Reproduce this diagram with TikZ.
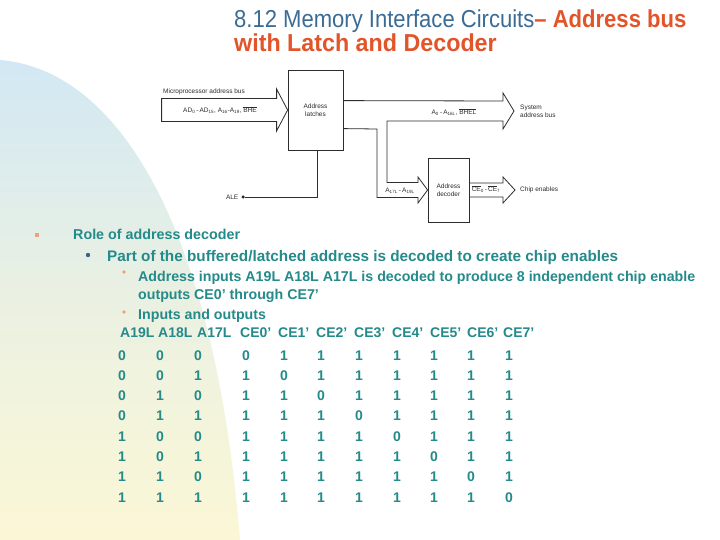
\documentclass[tikz,border=0pt]{standalone}
\usepackage{fontspec}
\setmainfont{Liberation Sans}
\newfontfamily\titlefont[FakeStretch=0.9]{Liberation Sans}
\newfontfamily\titlefontb[FakeStretch=0.95]{Liberation Sans}
\usetikzlibrary{calc}
\definecolor{tblue}{RGB}{58,108,150}
\definecolor{torange}{RGB}{226,84,42}
\definecolor{txtteal}{RGB}{36,138,138}
\definecolor{bgblue}{RGB}{210,232,244}
\definecolor{bgyellow}{RGB}{251,247,214}
\definecolor{bulor}{RGB}{238,160,130}
\definecolor{buldot}{RGB}{60,100,130}
\definecolor{diag}{RGB}{45,45,45}
\tikzset{
  blk/.style={draw=diag, line width=0.8pt, fill=white, inner sep=0pt, align=center,
    font=\fontsize{6.5}{8}\selectfont, text=diag},
  bus/.style={draw=diag, line width=0.8pt, line join=miter},
  wire/.style={draw=diag, line width=0.8pt},
  dlab/.style={font=\fontsize{6.5}{8}\selectfont, text=diag, inner sep=0pt},
  body/.style={text=txtteal, inner sep=0pt, anchor=base west},
  cell/.style={font=\fontsize{14}{16}\selectfont\bfseries, text=txtteal, inner sep=0pt, anchor=base west},
}
\begin{document}
\begin{tikzpicture}[x=1pt,y=-1pt]
\useasboundingbox (0,0) rectangle (720,540);
\fill[white] (0,0) rectangle (720,540);
% background shape
\shade[top color=bgblue, bottom color=bgyellow, middle color=bgblue!40!bgyellow]
  (0,60) .. controls (120,70) and (215,230) .. (240,540) -- (0,540) -- cycle;

% title
\node[inner sep=0pt, anchor=base west, font=\titlefont\fontsize{24.5}{28}\selectfont] (t1) at (234,28)
  {\textcolor{tblue}{8.12 Memory Interface Circuits}\textcolor{torange}{\bfseries– Address bus}};
\node[inner sep=0pt, anchor=base west, font=\titlefontb\fontsize{24.5}{28}\selectfont\bfseries, text=torange] (t2) at (234,52)
  {with Latch and Decoder};

% diagram blocks
\node[blk, minimum width=55pt, minimum height=80pt] (latch) at (315.5,110) {Address\\latches};
\node[blk, minimum width=41pt, minimum height=64pt] (dec) at (448.5,190) {Address\\decoder};

% input bus
\draw[bus] ($(latch.west)+(-126,-11.5)$) -- ++(115,0) -- ++(0,-9.5) -- (latch.west)
  -- ++(-11,21) -- ++(0,-9.5) -- ++(-115,0) -- cycle;
\node[dlab, anchor=base west] (mab) at (163,94) {Microprocessor address bus};
\node[dlab] (inlab) at (220,110) {AD\textsubscript{0}\,-\,AD\textsubscript{15}, A\textsubscript{16}-A\textsubscript{19}, $\overline{\hbox{BHE}}$};

% system bus and decoder input
\coordinate (systip) at (514,111);
\draw[bus] ($(latch.north east)+(0,31)$) -- (503,101) -- (503,93) -- (systip) -- (503,129) -- (503,121)
  -- (387,121) -- (387,182.5) -- (418,182.5) -- (418,177) -- (dec.west) -- (418,203) -- (418,197.5)
  -- (377,197.5) -- (377,129) -- ($(latch.north east)+(0,59)$);
\node[dlab] (sablab) at (454,112) {A\textsubscript{0}\,-\,A\textsubscript{16L}, $\overline{\hbox{BHEL}}$};
\node[dlab, anchor=west, align=left] (sys) at (520,111) {System\\address bus};
\node[dlab] (declab) at (400,191) {A\textsubscript{17L}\,-\,A\textsubscript{19L}};

% decoder output
\coordinate (cetip) at (515,190);
\draw[bus] ($(dec.east)+(0,-7)$) -- (503,183) -- (503,177) -- (cetip) -- (503,203) -- (503,197) -- ($(dec.east)+(0,7)$);
\node[dlab] (celab) at (486,189) {$\overline{\hbox{CE}}$\textsubscript{0}\,-\,$\overline{\hbox{CE}}$\textsubscript{7}};
\node[dlab, anchor=west] (chip) at (520,190) {Chip enables};

% ALE
\node[circle, fill=diag, inner sep=0pt, minimum size=3.5pt] (aledot) at (243,197) {};
\node[dlab, anchor=east] (ale) at (238.5,197) {ALE};
\draw[wire] (aledot) -- (317,197) -- (317,150);

% bullets
\fill[bulor] (35,233) rectangle (39,237);
\fill[buldot] (88,255) circle (2.2);
\fill[bulor] (124,272) circle (1.8);
\fill[bulor] (124,312) circle (1.8);

\node[body, font=\fontsize{14.3}{17}\selectfont\bfseries] (l1) at (73,240) {Role of address decoder};
\node[body, font=\fontsize{15.3}{18}\selectfont\bfseries] (l2) at (107,261) {Part of the buffered/latched address is decoded to create chip enables};
\node[body, font=\fontsize{14.2}{17}\selectfont\bfseries] (l3) at (138,281) {Address inputs A19L A18L A17L is decoded to produce 8 independent chip enable};
\node[body, font=\fontsize{14.2}{17}\selectfont\bfseries] (l4) at (138,299) {outputs CE0’ through CE7’};
\node[body, font=\fontsize{14.2}{17}\selectfont\bfseries] (l5) at (138,319) {Inputs and outputs};

% table header
\foreach \t/\x [count=\c] in {A19L/120,A18L/158,A17L/197,CE0’/240,CE1’/278,CE2’/316,CE3’/354,CE4’/392,CE5’/430,CE6’/467,CE7’/503}
  \node[cell] (h\c) at (\x,337) {\t};

% table rows
\foreach \row [count=\r] in {
  {0,0,0,0,1,1,1,1,1,1,1},
  {0,0,1,1,0,1,1,1,1,1,1},
  {0,1,0,1,1,0,1,1,1,1,1},
  {0,1,1,1,1,1,0,1,1,1,1},
  {1,0,0,1,1,1,1,0,1,1,1},
  {1,0,1,1,1,1,1,1,0,1,1},
  {1,1,0,1,1,1,1,1,1,0,1},
  {1,1,1,1,1,1,1,1,1,1,0}} {
  \foreach \v [count=\c] in \row {
    \pgfmathsetmacro{\cx}{{118,156,194,242,280,317,355,393,430,467,505}[\c-1]}
    \node[cell] (r\r c\c) at (\cx, {360+20.3*(\r-1)}) {\v};
  }
}
\end{tikzpicture}
\end{document}
